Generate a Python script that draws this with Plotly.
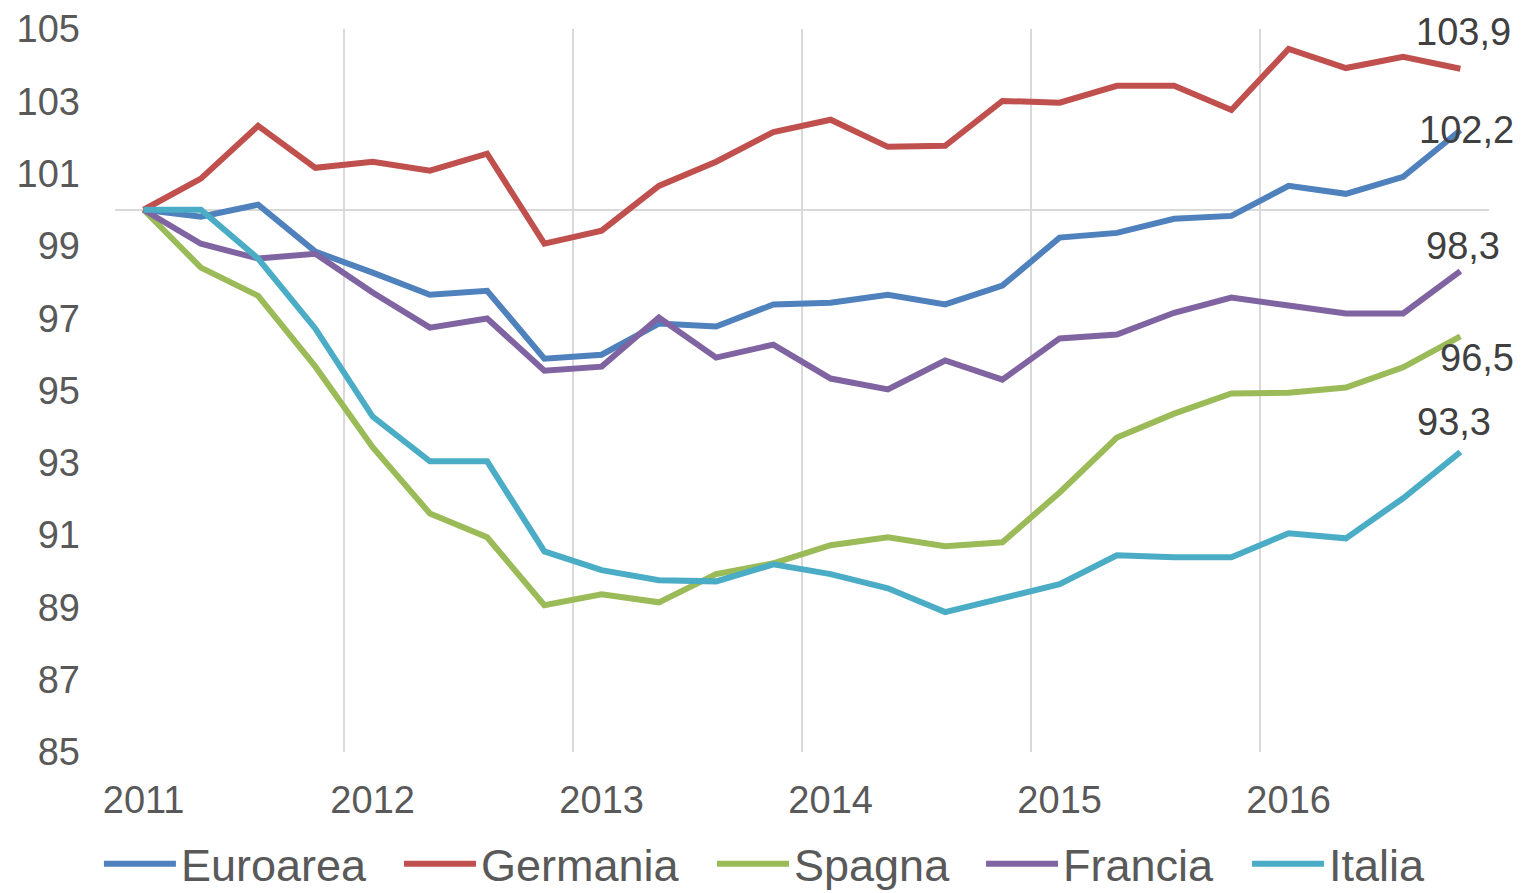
import plotly.graph_objects as go

# ---------------- data ----------------
years = ["2011", "2012", "2013", "2014", "2015", "2016"]
quarters = [f"{y} T{q}" for y in years for q in range(1, 5)]

euroarea = [100.0, 99.81, 100.14, 98.84, 98.26, 97.65, 97.76, 95.88, 95.99, 96.85, 96.77, 97.38,
            97.43, 97.65, 97.38, 97.90, 99.23, 99.36, 99.75, 99.83, 100.66, 100.44, 100.91, 102.2]
germania = [100.0, 100.86, 102.32, 101.16, 101.33, 101.08, 101.55, 99.06, 99.42, 100.66, 101.33, 102.15,
            102.49, 101.74, 101.77, 103.01, 102.96, 103.43, 103.43, 102.76, 104.45, 103.92, 104.23, 103.9]
spagna = [100.0, 98.40, 97.62, 95.66, 93.43, 91.60, 90.94, 89.06, 89.36, 89.14, 89.92, 90.22,
          90.72, 90.94, 90.69, 90.80, 92.18, 93.70, 94.36, 94.92, 94.94, 95.08, 95.64, 96.5]
francia = [100.0, 99.06, 98.65, 98.78, 97.71, 96.74, 96.99, 95.55, 95.66, 97.02, 95.91, 96.27,
           95.33, 95.03, 95.83, 95.30, 96.44, 96.55, 97.15, 97.57, 97.35, 97.13, 97.13, 98.3]
italia = [100.0, 100.0, 98.65, 96.71, 94.28, 93.04, 93.04, 90.55, 90.03, 89.75, 89.72, 90.19,
          89.92, 89.53, 88.87, 89.25, 89.64, 90.44, 90.39, 90.39, 91.05, 90.91, 92.02, 93.3]

series_names = ["Euroarea", "Germania", "Spagna", "Francia", "Italia"]
series_values = [euroarea, germania, spagna, francia, italia]

# ---------------- style ----------------
colors = ["#4F81BD", "#C0504D", "#9BBB59", "#8064A2", "#4BACC6"]
label_shift = {  # (xshift, yshift) in px for end-of-line value labels
    "Euroarea": (6, 0),
    "Germania": (3, 37),
    "Spagna": (17, -22),
    "Francia": (3, 25),
    "Italia": (-6, 30),
}
legend_x = [-0.0117, 0.2067, 0.4345, 0.6303, 0.8239]  # paper x of each legend entry
FONT = "Liberation Sans, Arial, sans-serif"
TICK_COLOR = "#595959"
GRID_COLOR = "#D9D9D9"

xpos = list(range(len(quarters)))
year_first_idx = [i for i, q in enumerate(quarters) if q.endswith("T1")]
boundaries = [i - 0.5 for i in year_first_idx] + [len(quarters) - 0.5]
xr = [-0.5, len(quarters) - 0.5]
yr = [85, 105]

fig = go.Figure()
legend_ids = ["legend"] + [f"legend{i}" for i in range(2, len(series_names) + 1)]
for name, vals, col, lid in zip(series_names, series_values, colors, legend_ids):
    fig.add_trace(go.Scatter(
        x=xpos, y=vals, name=name, mode="lines",
        line=dict(color=col, width=6),
        hoverinfo="skip", legend=lid,
    ))

# helper trace for the overlay axes (grid at year boundaries + line at 100)
fig.add_trace(go.Scatter(x=[], y=[], xaxis="x2", yaxis="y2", showlegend=False,
                         hoverinfo="skip"))

for name, vals in zip(series_names, series_values):
    last = vals[-1]
    dx, dy = label_shift[name]
    fig.add_annotation(
        x=xpos[-1], y=last, xref="x", yref="y",
        text=f"{last:.1f}".replace(".", ","),
        showarrow=False, xshift=dx, yshift=dy,
        font=dict(family=FONT, size=38, color="#404040"),
    )

legend_layouts = {}
for lid, lx in zip(legend_ids, legend_x):
    legend_layouts[lid] = dict(
        orientation="h", x=lx, xanchor="left", y=-0.155, yanchor="middle",
        font=dict(family=FONT, size=45, color=TICK_COLOR),
        itemwidth=72, bgcolor="rgba(0,0,0,0)",
    )

# the page body adds an 8px offset: figure is shrunk so the whole chart fits the window
fig.update_layout(
    width=1514, height=885,
    margin=dict(l=107, r=33, t=21, b=141, autoexpand=False),
    paper_bgcolor="white", plot_bgcolor="white",
    font=dict(family=FONT, color=TICK_COLOR),
    showlegend=True,
    **legend_layouts,
    xaxis=dict(
        range=xr, tickmode="array",
        tickvals=year_first_idx, ticktext=years,
        showgrid=False, zeroline=False, showline=False, ticks="",
        tickfont=dict(family=FONT, size=38, color=TICK_COLOR),
        ticklabelstandoff=22,
    ),
    yaxis=dict(
        range=yr, tickmode="linear", tick0=85, dtick=2,
        showgrid=False, zeroline=False, showline=False, ticks="",
        tickfont=dict(family=FONT, size=38, color=TICK_COLOR),
        ticklabelstandoff=34,
    ),
    xaxis2=dict(
        overlaying="x", range=xr, tickmode="array", tickvals=boundaries,
        showticklabels=False, showgrid=True, gridcolor=GRID_COLOR, gridwidth=2,
        zeroline=False, showline=False, ticks="",
    ),
    yaxis2=dict(
        overlaying="y", range=yr, tickmode="array", tickvals=[100],
        showticklabels=False, showgrid=True, gridcolor=GRID_COLOR, gridwidth=2,
        zeroline=False, showline=False, ticks="",
    ),
)

fig.write_html("out.html")
